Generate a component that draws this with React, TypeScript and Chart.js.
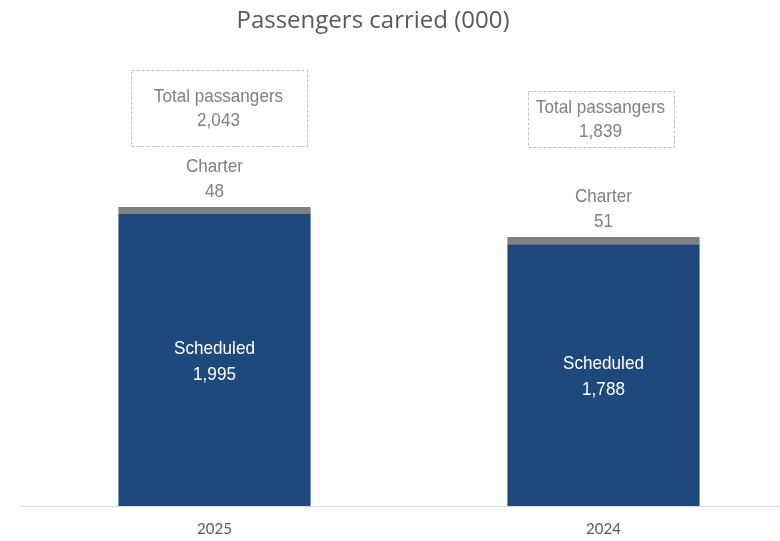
import React, { useEffect, useRef } from "react";
import { Chart, registerables } from "chart.js";

Chart.register(...registerables);

const categories = ["2025", "2024"];
const scheduled = [1995, 1788];
const charter = [48, 51];
const titleText = "Passengers carried (000)";
const totalLabel = "Total passangers";
const scheduledLabel = "Scheduled";
const charterLabel = "Charter";

// style-only: box geometry relative to top of stack
const totalBoxStyle = [
  { gap: 61, w: 176, h: 76, dx: 4 },
  { gap: 90, w: 146, h: 56, dx: -3 },
];

const fmt = (v: number) => v.toLocaleString("en-US");

const labelFont = "19px 'Liberation Sans', Arial, sans-serif";
const squeeze = 0.9;

function text(ctx: CanvasRenderingContext2D, s: string, x: number, y: number) {
  ctx.save();
  ctx.translate(x, y);
  ctx.scale(squeeze, 1);
  ctx.fillText(s, 0, 0);
  ctx.restore();
}

const labelPlugin = {
  id: "labels",
  afterDatasetsDraw(chart: any) {
    const ctx = chart.ctx;
    const m0 = chart.getDatasetMeta(0);
    const m1 = chart.getDatasetMeta(1);
    ctx.save();
    ctx.textAlign = "center";
    ctx.textBaseline = "middle";
    ctx.font = labelFont;
    categories.forEach((_, i) => {
      const s = m0.data[i];
      const c = m1.data[i];
      const mid = (s.y + s.base) / 2;
      ctx.fillStyle = "#ffffff";
      text(ctx, scheduledLabel, s.x, mid - 11);
      text(ctx, fmt(scheduled[i]), s.x, mid + 15);
      ctx.fillStyle = "#808080";
      text(ctx, charterLabel, c.x, c.y - 40);
      text(ctx, fmt(charter[i]), c.x, c.y - 15);
      const st = totalBoxStyle[i];
      const bottom = c.y - st.gap;
      const top = bottom - st.h;
      const cy = (top + bottom) / 2;
      const cx = c.x + st.dx;
      ctx.strokeStyle = "#bfbfbf";
      ctx.lineWidth = 1;
      ctx.setLineDash([3, 2]);
      ctx.strokeRect(Math.round(cx - st.w / 2) + 0.5, Math.round(top) + 0.5, st.w, st.h);
      ctx.setLineDash([]);
      ctx.fillStyle = "#808080";
      text(ctx, totalLabel, cx, cy - 11);
      text(ctx, fmt(scheduled[i] + charter[i]), cx, cy + 13);
    });
    ctx.fillStyle = "#595959";
    ctx.font = "24px 'Open Sans', sans-serif";
    ctx.fillText(titleText, 373, 21);
    ctx.restore();
  },
};

export default function App() {
  const ref = useRef<HTMLCanvasElement>(null);
  useEffect(() => {
    if (!ref.current) return;
    const chart = new Chart(ref.current, {
      type: "bar",
      data: {
        labels: categories,
        datasets: [
          {
            label: scheduledLabel,
            data: scheduled,
            backgroundColor: "#1f497d",
            categoryPercentage: 1,
            barPercentage: 0.494,
          },
          {
            label: charterLabel,
            data: charter,
            backgroundColor: "#808080",
            categoryPercentage: 1,
            barPercentage: 0.494,
          },
        ],
      },
      options: {
        responsive: false,
        animation: false,
        layout: { padding: { left: 20, right: 2, top: 67, bottom: 0 } },
        plugins: {
          legend: { display: false },
          tooltip: { enabled: false },
          title: { display: false },
        },
        scales: {
          x: {
            stacked: true,
            grid: { display: false, drawTicks: false },
            border: { display: true, color: "#d9d9d9", width: 1 },
            ticks: {
              color: "#595959",
              font: { family: "Lato, 'Open Sans', sans-serif", size: 15 },
              padding: 14,
            },
            afterFit: (scale: any) => {
              scale.height = 35;
            },
          },
          y: {
            stacked: true,
            display: false,
            min: 0,
            max: 3000,
          },
        },
      },
      plugins: [labelPlugin],
    });
    return () => chart.destroy();
  }, []);
  return (
    <div
      style={{
        position: "absolute",
        left: 0,
        top: 0,
        width: 780,
        height: 541,
        overflow: "hidden",
        background: "#ffffff",
      }}
    >
      <canvas ref={ref} width={800} height={541} style={{ display: "block" }} />
    </div>
  );
}
